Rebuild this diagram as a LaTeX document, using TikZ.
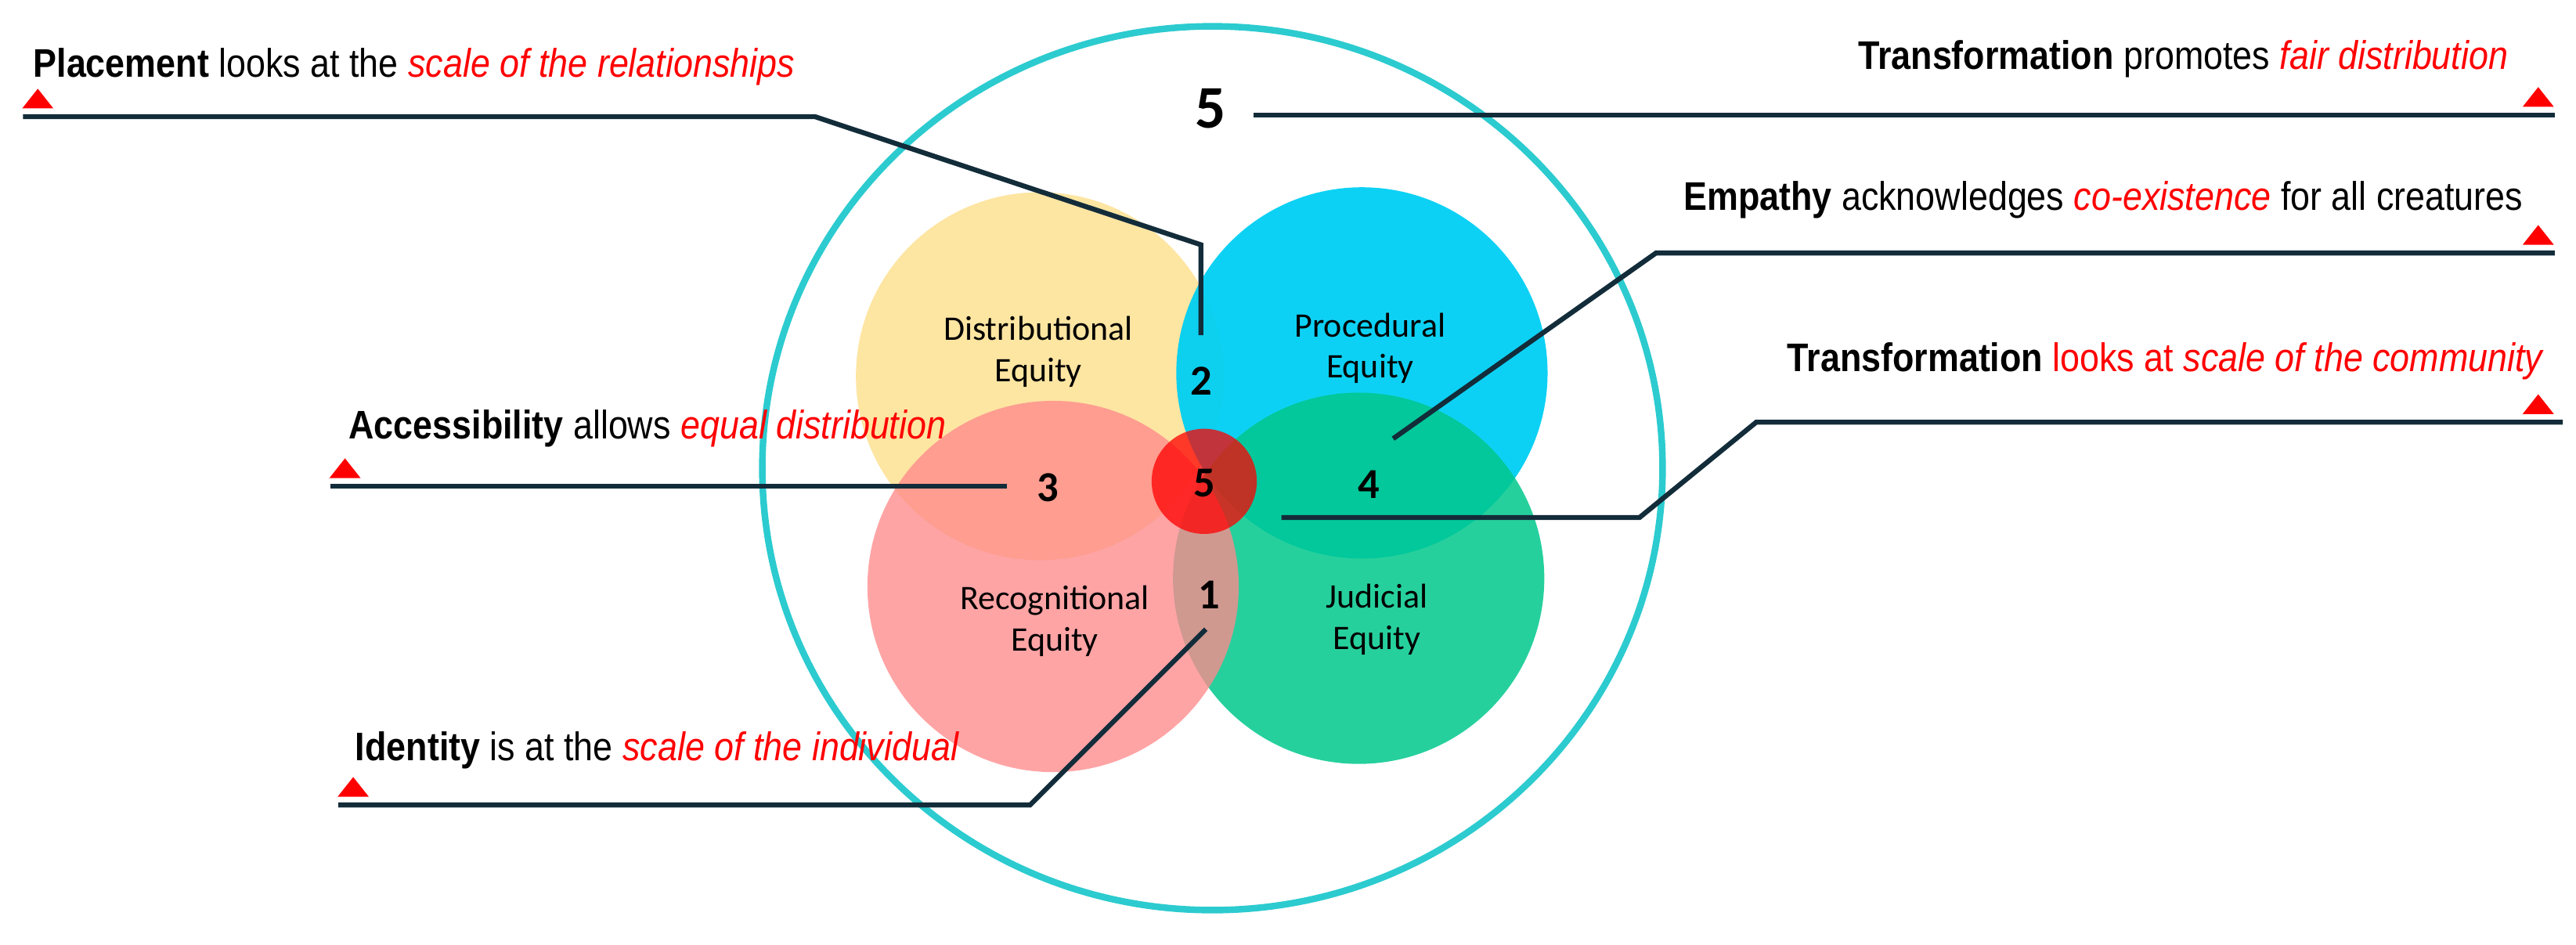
\documentclass[tikz,border=0pt]{standalone}
\usepackage{fontspec}
\setmainfont{Liberation Sans}[FakeStretch=0.88]
\newfontfamily\calib{Carlito}
\usepackage{tikz}
\usetikzlibrary{arrows}
\definecolor{ring}{HTML}{2CCBCF}
\definecolor{navy}{HTML}{132C3A}
\definecolor{yel}{HTML}{FDE5A2}
\definecolor{blu}{HTML}{00CFF3}
\definecolor{rd}{HTML}{FF8A8C}
\definecolor{grn}{HTML}{00C88C}
\tikzset{
  lead/.style={draw=navy, line width=1.8pt},
  lab/.style={inner sep=0pt, font=\fontsize{14.5}{17}\selectfont},
  eq/.style={font=\calib\fontsize{12.5}{15}\selectfont, align=center},
  num/.style={font=\calib\bfseries\fontsize{15.5}{17}\selectfont}
}
\newcommand{\redmark}[2]{\fill[red] (#1-9.5,#2-5) -- (#1+9.5,#2-5) -- (#1,#2-17) -- cycle;}
\begin{document}
\begin{tikzpicture}[x=0.02098cm, y=-0.02098cm]
    \useasboundingbox (0,0) rectangle (1568,575);
    % circles
    \draw[ring, line width=2.4pt] (738,285) ellipse (274 and 269);
    \fill[yel] (633,229) circle (112);
    \fill[blu, opacity=0.95] (829,227) circle (113);
    \fill[grn, opacity=0.85] (827,352) circle (113);
    \fill[rd, opacity=0.78] (641,357) circle (113);
    \fill[red, opacity=0.75] (733,293) circle (32);
    % labels in circles
    \node[eq] (dist) at (632,214) {Distributional\\Equity};
    \node[eq] (proc) at (834,212) {Procedural\\Equity};
    \node[eq] (reco) at (642,378) {Recognitional\\Equity};
    \node[eq] (judi) at (838,377) {Judicial\\Equity};
    \node[num] (n2) at (731,232) {2};
    \node[num] (n3) at (638,297) {3};
    \node[num] (n5) at (733,294) {5};
    \node[num] (n4) at (833,295) {4};
    \node[num] (n1) at (736,362) {1};
    \node[font=\calib\bfseries\fontsize{22}{24}\selectfont] (big5) at (737,66) {5};
    % captions
    \node[lab, anchor=base west] (tplace) at (20,47) {\textbf{Placement} looks at the {\color{red}\itshape scale of the relationships}};
    \node[lab, anchor=base east] (ttrans) at (1527,42) {\textbf{Transformation} promotes {\color{red}\itshape fair distribution}};
    \node[lab, anchor=base east] (tempa) at (1536,128) {\textbf{Empathy} acknowledges {\color{red}\itshape co-existence} for all creatures};
    \node[lab, anchor=base east] (tcomm) at (1548,226) {\textbf{Transformation} {\color{red}looks at \itshape scale of the community}};
    \node[lab, anchor=base west] (tacce) at (212,267) {\textbf{Accessibility} allows {\color{red}\itshape equal distribution}};
    \node[lab, anchor=base west] (tiden) at (216,463) {\textbf{Identity} is at the {\color{red}\itshape scale of the individual}};
    % leader lines
    \coordinate (p0) at (14,71);
    \coordinate (p1) at (496,71);
    \coordinate (p2) at (731,149);
    \coordinate (p3) at (731,204);
    \draw[lead] (p0) -- (p1) -- (p2) -- (p3);
    \coordinate (q0) at (763,70);
    \coordinate (q1) at (1555,70);
    \draw[lead] (q0) -- (q1);
    \coordinate (e0) at (1555,154);
    \coordinate (e1) at (1008,154);
    \coordinate (e2) at (848,267);
    \draw[lead] (e0) -- (e1) -- (e2);
    \coordinate (c0) at (1560,257);
    \coordinate (c1) at (1069,257);
    \coordinate (c2) at (998,315);
    \coordinate (c3) at (780,315);
    \draw[lead] (c0) -- (c1) -- (c2) -- (c3);
    \coordinate (a0) at (201,296);
    \coordinate (a1) at (613,296);
    \draw[lead] (a0) -- (a1);
    \coordinate (i0) at (206,490);
    \coordinate (i1) at (627,490);
    \coordinate (i2) at (734,383);
    \draw[lead] (i0) -- (i1) -- (i2);
    % red marks
    \redmark{23}{71}
    \redmark{1545}{70}
    \redmark{1545}{154}
    \redmark{1545}{257}
    \redmark{210}{296}
    \redmark{215}{490}
\end{tikzpicture}
\end{document}
